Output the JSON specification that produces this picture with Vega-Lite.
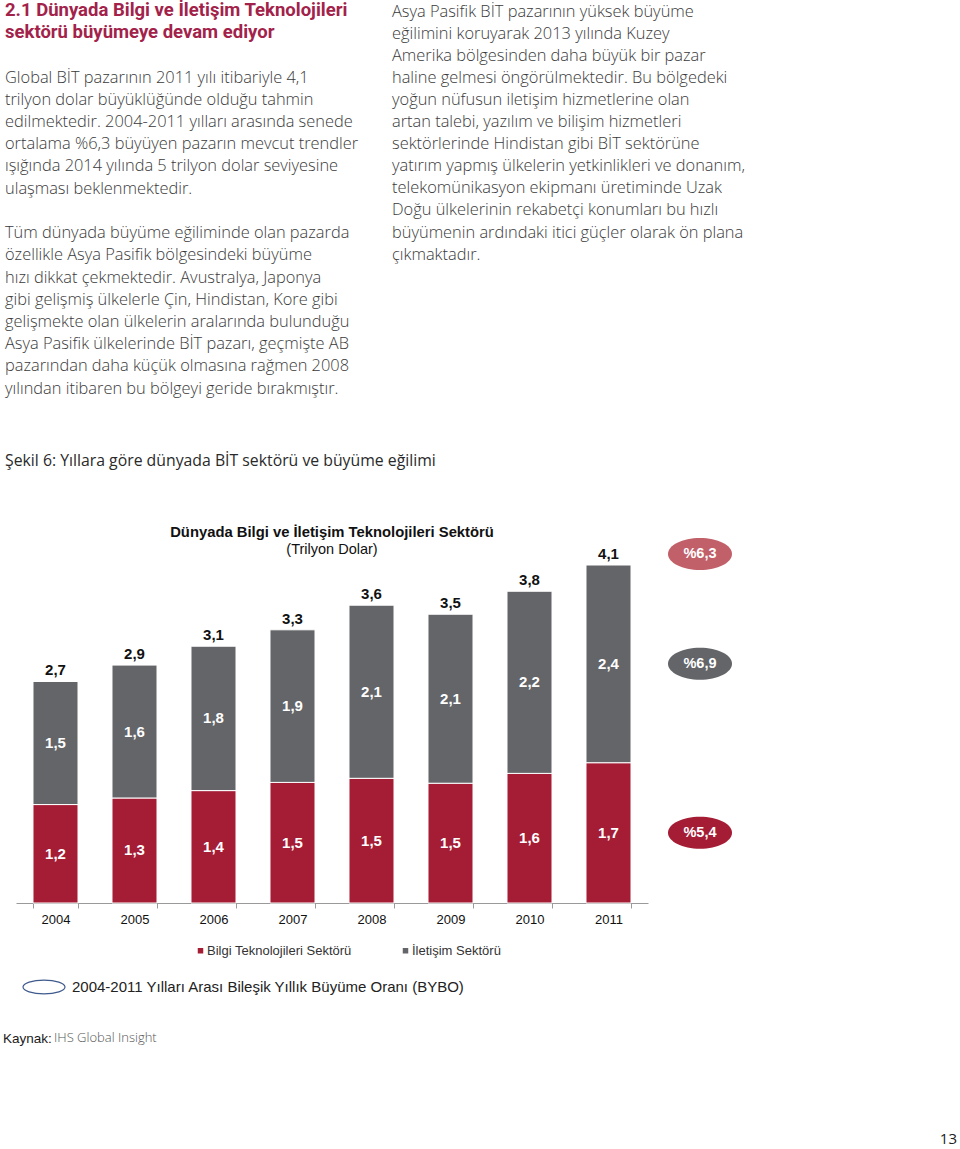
{
  "$schema": "https://vega.github.io/schema/vega-lite/v6.json",
  "background": "white",
  "padding": {"left": 3, "top": 1, "right": 0, "bottom": 0},
  "bounds": "flush",
  "spacing": 0,
  "columns": 2,
  "align": "each",
  "resolve": {"legend": {"color": "independent", "stroke": "independent"}},
  "config": {
    "view": {"stroke": null},
    "locale": {"number": {"decimal": ",", "thousands": ".", "grouping": [3], "currency": ["", " TL"]}}
  },
  "datasets": {
    "bars": [
      {"year": "2004", "sector": "Bilgi Teknolojileri Sektörü", "value": 1.2},
      {"year": "2004", "sector": "İletişim Sektörü", "value": 1.5},
      {"year": "2005", "sector": "Bilgi Teknolojileri Sektörü", "value": 1.28},
      {"year": "2005", "sector": "İletişim Sektörü", "value": 1.62},
      {"year": "2006", "sector": "Bilgi Teknolojileri Sektörü", "value": 1.37},
      {"year": "2006", "sector": "İletişim Sektörü", "value": 1.76},
      {"year": "2007", "sector": "Bilgi Teknolojileri Sektörü", "value": 1.47},
      {"year": "2007", "sector": "İletişim Sektörü", "value": 1.86},
      {"year": "2008", "sector": "Bilgi Teknolojileri Sektörü", "value": 1.52},
      {"year": "2008", "sector": "İletişim Sektörü", "value": 2.11},
      {"year": "2009", "sector": "Bilgi Teknolojileri Sektörü", "value": 1.46},
      {"year": "2009", "sector": "İletişim Sektörü", "value": 2.06},
      {"year": "2010", "sector": "Bilgi Teknolojileri Sektörü", "value": 1.58},
      {"year": "2010", "sector": "İletişim Sektörü", "value": 2.22},
      {"year": "2011", "sector": "Bilgi Teknolojileri Sektörü", "value": 1.71},
      {"year": "2011", "sector": "İletişim Sektörü", "value": 2.41}
    ],
    "bybo": [
      {"sector": "Bilgi Teknolojileri Sektörü", "label": "%5,4", "measure": "2004-2011 Yılları Arası Bileşik Yıllık Büyüme Oranı (BYBO)"},
      {"sector": "İletişim Sektörü", "label": "%6,9", "measure": "2004-2011 Yılları Arası Bileşik Yıllık Büyüme Oranı (BYBO)"}
    ],
    "bybo_total": [
      {"year": "2011", "label": "%6,3", "measure": "2004-2011 Yılları Arası Bileşik Yıllık Büyüme Oranı (BYBO)"}
    ]
  },
  "concat": [
    {
      "width": 376, "height": 64,
      "data": {"values": []},
      "mark": "point",
      "title": {
        "text": ["2.1 Dünyada Bilgi ve İletişim Teknolojileri", "sektörü büyümeye devam ediyor"],
        "subtitle": [
          "Global BİT pazarının 2011 yılı itibariyle 4,1",
          "trilyon dolar büyüklüğünde olduğu tahmin",
          "edilmektedir. 2004-2011 yılları arasında senede",
          "ortalama %6,3 büyüyen pazarın mevcut trendler",
          "ışığında 2014 yılında 5 trilyon dolar seviyesine",
          "ulaşması beklenmektedir."
        ],
        "anchor": "start", "frame": "group", "orient": "top", "dx": -11, "offset": 210, "limit": 600,
        "font": "Roboto", "fontSize": 18.5, "fontWeight": "bold", "color": "#a2224a", "lineHeight": 21.7,
        "subtitleFont": "Open Sans", "subtitleFontSize": 16.4, "subtitleFontWeight": 300, "subtitleColor": "#3a3a3a",
        "subtitleLineHeight": 22.2, "subtitlePadding": 28
      }
    },
    {
      "width": 1, "height": 64,
      "data": {"values": []},
      "mark": "point",
      "title": {
        "text": [
          "Asya Pasifik BİT pazarının yüksek büyüme",
          "eğilimini koruyarak 2013 yılında Kuzey",
          "Amerika bölgesinden daha büyük bir pazar",
          "haline gelmesi öngörülmektedir. Bu bölgedeki",
          "yoğun nüfusun iletişim hizmetlerine olan",
          "artan talebi, yazılım ve bilişim hizmetleri",
          "sektörlerinde Hindistan gibi BİT sektörüne",
          "yatırım yapmış ülkelerin yetkinlikleri ve donanım,",
          "telekomünikasyon ekipmanı üretiminde Uzak",
          "Doğu ülkelerinin rekabetçi konumları bu hızlı",
          "büyümenin ardındaki itici güçler olarak ön plana",
          "çıkmaktadır."
        ],
        "anchor": "start", "frame": "group", "orient": "top", "dx": -256, "offset": 144, "limit": 600,
        "font": "Open Sans", "fontSize": 16.4, "fontWeight": 300, "color": "#3a3a3a", "lineHeight": 22.1
      }
    },
    {
      "width": 430, "height": 94,
      "data": {"values": []},
      "mark": "point",
      "title": {
        "text": "Şekil 6: Yıllara göre dünyada BİT sektörü ve büyüme eğilimi",
        "anchor": "start", "frame": "group", "orient": "top", "dx": -11, "offset": 1, "limit": 600,
        "font": "Open Sans", "fontSize": 15.8, "fontWeight": "normal", "color": "#2a2a2a"
      }
    },
    {
      "width": 1, "height": 94,
      "data": {"values": []},
      "mark": "point",
      "title": {
        "text": [
          "Tüm dünyada büyüme eğiliminde olan pazarda",
          "özellikle Asya Pasifik bölgesindeki büyüme",
          "hızı dikkat çekmektedir. Avustralya, Japonya",
          "gibi gelişmiş ülkelerle Çin, Hindistan, Kore gibi",
          "gelişmekte olan ülkelerin aralarında bulunduğu",
          "Asya Pasifik ülkelerinde BİT pazarı, geçmişte AB",
          "pazarından daha küçük olmasına rağmen 2008",
          "yılından itibaren bu bölgeyi geride bırakmıştır."
        ],
        "anchor": "start", "frame": "group", "orient": "top", "dx": -643, "offset": 74, "limit": 600,
        "font": "Open Sans", "fontSize": 16.4, "fontWeight": 300, "color": "#3a3a3a", "lineHeight": 22.2
      }
    },
    {
      "width": 632, "height": 338,
      "data": {"name": "bars"},
      "title": {
        "text": "Dünyada Bilgi ve İletişim Teknolojileri Sektörü",
        "subtitle": "(Trilyon Dolar)",
        "anchor": "middle", "frame": "group", "orient": "top", "offset": -9,
        "font": "Liberation Sans", "fontSize": 14.8, "fontWeight": "bold", "color": "#111111",
        "subtitleFont": "Liberation Sans", "subtitleFontSize": 14.5, "subtitleColor": "#111111", "subtitlePadding": 3
      },
      "encoding": {
        "x": {
          "field": "year", "type": "ordinal",
          "scale": {"paddingInner": 0.43, "paddingOuter": 0.215},
          "axis": {
            "title": null, "labelAngle": 0, "labelFont": "Liberation Sans", "labelFontSize": 13,
            "labelColor": "#111111", "tickBand": "extent", "domainColor": "#9a9a9a", "tickColor": "#9a9a9a",
            "tickSize": 5, "labelPadding": 5, "domainWidth": 1
          }
        }
      },
      "layer": [
        {
          "mark": {"type": "bar", "stroke": "white", "strokeWidth": 1},
          "encoding": {
            "y": {"field": "value", "type": "quantitative", "stack": "zero", "scale": {"domain": [0, 4.12], "nice": false}, "axis": null},
            "color": {
              "field": "sector", "type": "nominal",
              "scale": {"domain": ["Bilgi Teknolojileri Sektörü", "İletişim Sektörü"], "range": ["#a51c35", "#646569"]},
              "legend": {
                "orient": "none", "legendX": 178, "legendY": 379, "direction": "horizontal", "title": null,
                "symbolType": "square", "symbolSize": 49, "labelFont": "Liberation Sans", "labelFontSize": 13,
                "labelColor": "#333333", "labelOffset": 0, "columnPadding": 47, "padding": 0
              }
            },
            "order": {"field": "sector", "sort": "ascending"}
          }
        },
        {
          "transform": [
            {"stack": "value", "groupby": ["year"], "sort": [{"field": "sector", "order": "ascending"}], "as": ["v0", "v1"]},
            {"fold": ["v0", "v1"], "as": ["edge", "pos"]}
          ],
          "mark": {"type": "text", "font": "Liberation Sans", "fontSize": 15, "fontWeight": "bold", "color": "white", "baseline": "middle"},
          "encoding": {
            "y": {"field": "pos", "aggregate": "mean", "type": "quantitative", "axis": null},
            "detail": {"field": "sector", "type": "nominal"},
            "text": {"field": "value", "type": "quantitative", "format": ".1f"}
          }
        },
        {
          "mark": {"type": "text", "font": "Liberation Sans", "fontSize": 15, "fontWeight": "bold", "color": "#111111", "baseline": "bottom", "dy": -3},
          "encoding": {
            "y": {"field": "value", "aggregate": "sum", "type": "quantitative", "axis": null},
            "text": {"field": "value", "aggregate": "sum", "type": "quantitative", "format": ".1f"}
          }
        }
      ]
    },
    {
      "width": 104, "height": 338,
      "data": {"name": "bars"},
      "transform": [{"filter": "datum.year === '2011'"}],
      "layer": [
        {
          "transform": [
            {"stack": "value", "groupby": ["year"], "sort": [{"field": "sector", "order": "ascending"}], "as": ["v0", "v1"]},
            {"fold": ["v0", "v1"], "as": ["edge", "pos"]},
            {"aggregate": [{"op": "mean", "field": "pos", "as": "mid"}], "groupby": ["sector"]},
            {"lookup": "sector", "from": {"data": {"name": "bybo"}, "key": "sector", "fields": ["label", "measure"]}}
          ],
          "encoding": {
            "y": {"field": "mid", "type": "quantitative", "scale": {"domain": [0, 4.12], "nice": false}, "axis": null}
          },
          "layer": [
            {
              "mark": {"type": "point", "shape": "M-1,0C-1,-0.276,-0.552,-0.5,0,-0.5C0.552,-0.5,1,-0.276,1,0C1,0.276,0.552,0.5,0,0.5C-0.552,0.5,-1,0.276,-1,0Z", "size": 4096, "filled": true, "opacity": 1},
              "encoding": {
                "fill": {
                  "field": "sector", "type": "nominal",
                  "scale": {"domain": ["Bilgi Teknolojileri Sektörü", "İletişim Sektörü"], "range": ["#a51c35", "#646569"]},
                  "legend": null
                },
                "stroke": {
                  "field": "measure", "type": "nominal",
                  "scale": {"range": ["#3f5a8c"]},
                  "legend": {
                    "orient": "none", "legendX": -626, "legendY": 400, "title": null,
                    "symbolType": "M-1,0C-1,-0.182,-0.552,-0.33,0,-0.33C0.552,-0.33,1,-0.182,1,0C1,0.182,0.552,0.33,0,0.33C-0.552,0.33,-1,0.182,-1,0Z",
                    "symbolSize": 1764, "symbolFillColor": "white", "symbolStrokeWidth": 1.2,
                    "labelFont": "Liberation Sans", "labelFontSize": 15, "labelColor": "#222222", "labelOffset": 6, "padding": 0,
                    "labelLimit": 600
                  }
                },
                "strokeWidth": {"value": 0}
              }
            },
            {
              "mark": {"type": "text", "font": "Liberation Sans", "fontSize": 14.5, "fontWeight": "bold", "color": "white", "baseline": "middle"},
              "encoding": {"text": {"field": "label", "type": "nominal"}}
            }
          ]
        },
        {
          "transform": [
            {"aggregate": [{"op": "sum", "field": "value", "as": "total"}], "groupby": ["year"]},
            {"lookup": "year", "from": {"data": {"name": "bybo_total"}, "key": "year", "fields": ["label"]}}
          ],
          "encoding": {
            "y": {"field": "total", "type": "quantitative", "axis": null}
          },
          "layer": [
            {
              "mark": {"type": "point", "shape": "M-1,0C-1,-0.276,-0.552,-0.5,0,-0.5C0.552,-0.5,1,-0.276,1,0C1,0.276,0.552,0.5,0,0.5C-0.552,0.5,-1,0.276,-1,0Z", "size": 4096, "filled": true, "color": "#c2606a", "opacity": 1, "yOffset": -11}
            },
            {
              "mark": {"type": "text", "font": "Liberation Sans", "fontSize": 14.5, "fontWeight": "bold", "color": "white", "baseline": "middle", "yOffset": -11},
              "encoding": {"text": {"field": "label", "type": "nominal"}}
            }
          ]
        }
      ]
    },
    {
      "width": 51, "height": 127,
      "data": {"values": []},
      "mark": "point",
      "title": {
        "text": "Kaynak:", "orient": "bottom", "anchor": "start", "frame": "group", "dx": -13, "offset": 2,
        "font": "Liberation Sans", "fontSize": 13.5, "fontWeight": "normal", "color": "#1a1a1a"
      }
    },
    {
      "width": 1, "height": 127,
      "data": {"values": []},
      "mark": "point",
      "title": {
        "text": "IHS Global Insight", "orient": "bottom", "anchor": "start", "frame": "group", "dx": -594, "offset": 2, "limit": 300,
        "font": "Open Sans", "fontSize": 13, "fontWeight": 300, "color": "#555555"
      }
    },
    {
      "width": 1, "height": 100,
      "data": {"values": []},
      "mark": "point"
    },
    {
      "width": 309, "height": 100,
      "data": {"values": []},
      "mark": "point",
      "title": {
        "text": "13", "orient": "bottom", "anchor": "end", "frame": "group", "offset": 2,
        "font": "Open Sans", "fontSize": 15, "fontWeight": "normal", "color": "#222222"
      }
    }
  ]
}
